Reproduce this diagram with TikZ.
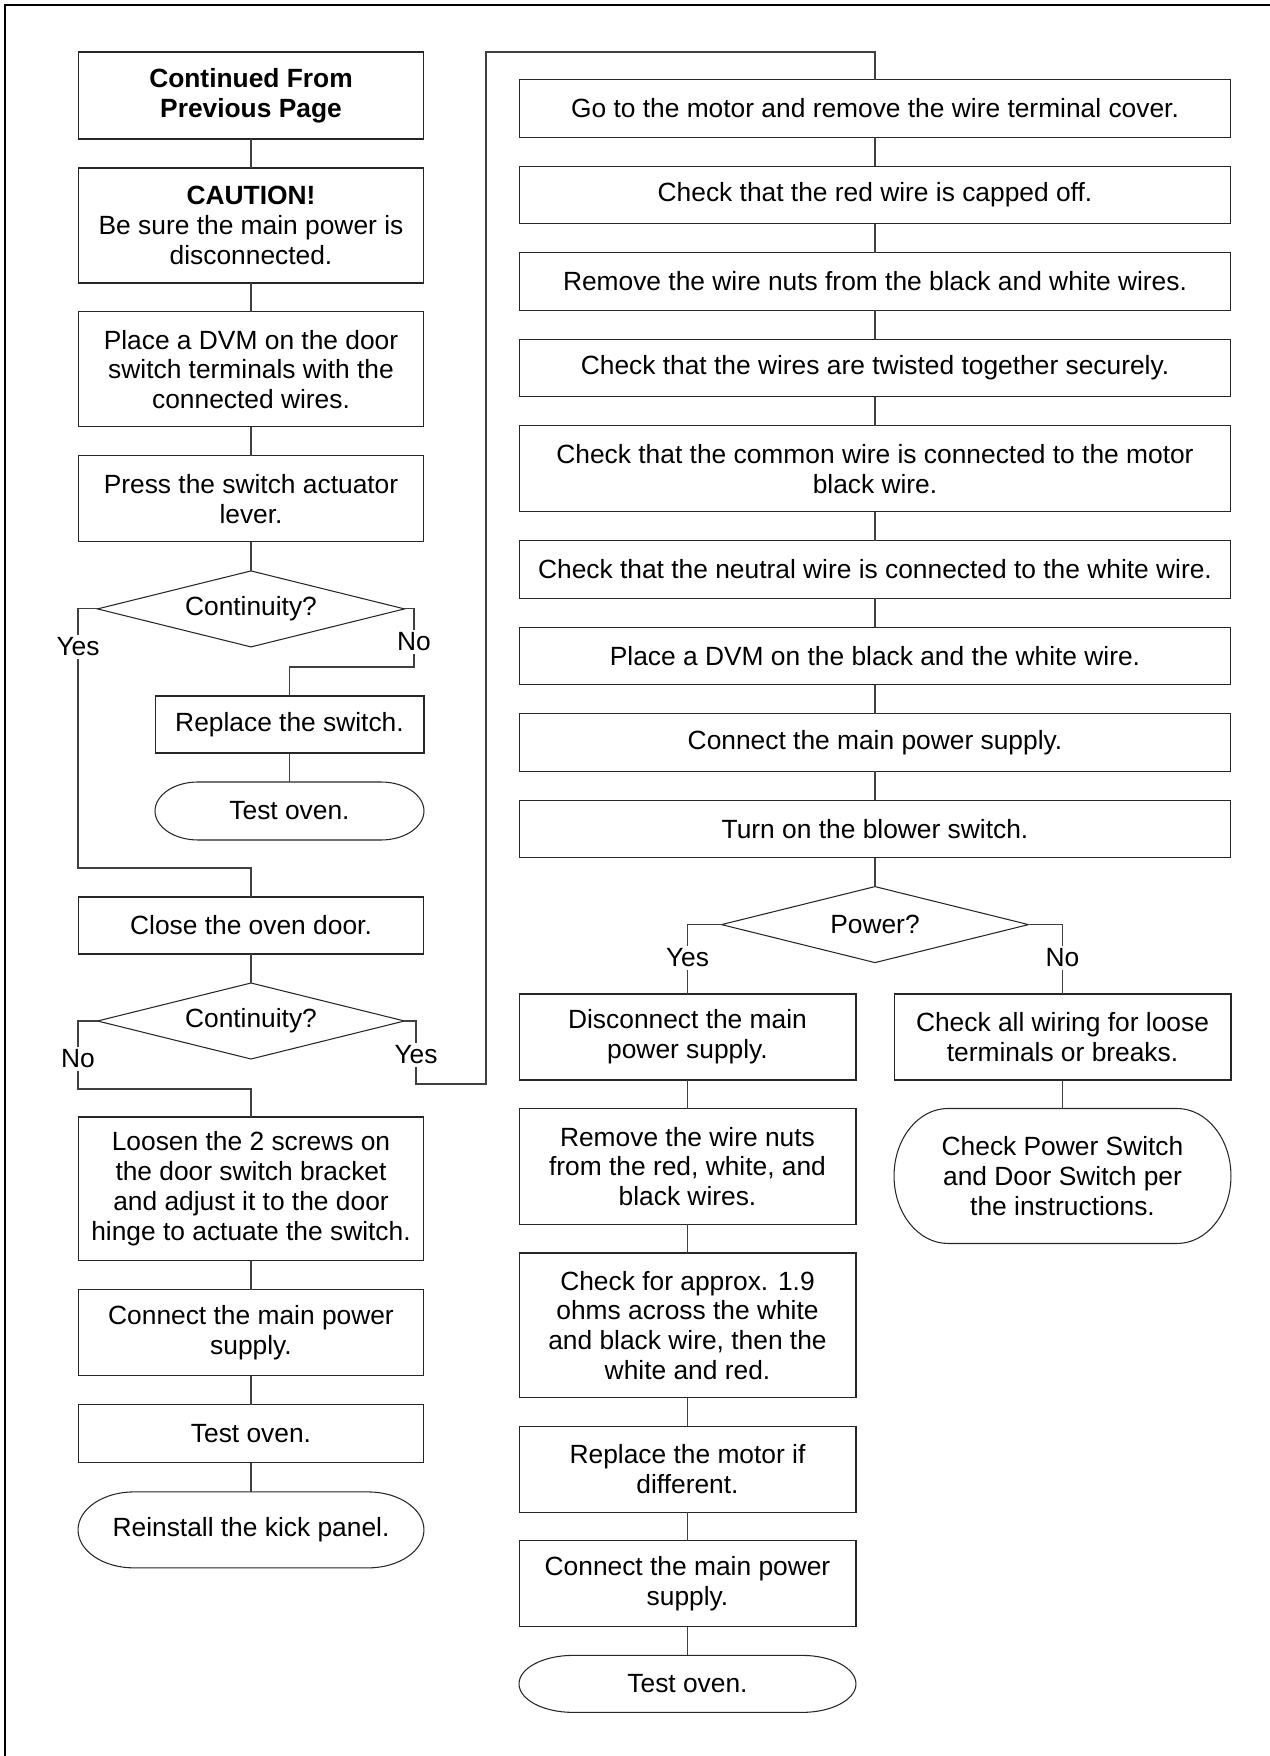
\documentclass[tikz,border=0pt]{standalone}
\usepackage{fontspec}
\setmainfont{Liberation Sans}
\usetikzlibrary{positioning, shapes.geometric}

\begin{document}
\begin{tikzpicture}[
                x = 0.02cm, y = -0.02cm, % one unit is one pixel of the page
                node distance = 5.8mm, % gap between boxes
                line width = 0.6pt % line style
            ]

            \tikzstyle{every node}=[font = \fontsize{15}{17}\selectfont,
            align = center, inner sep = 0pt, outer sep = 0pt]
            \tikzstyle{stepbox}=[draw = black!85, rectangle,
            minimum width = 6.92cm]
            \tikzstyle{widebox}=[stepbox, minimum width = 14.22cm]
            \tikzstyle{halfbox}=[stepbox, minimum width = 6.74cm]
            \tikzstyle{decision}=[draw = black!85, diamond, aspect = 4,
            minimum width = 6.14cm, minimum height = 1.52cm]
            \tikzstyle{term}=[rectangle]
            \tikzstyle{answer}=[fill = white, inner sep = 1.5pt]
            \tikzstyle{wire}=[draw = black!75]
            \tikzstyle{every edge}=[wire]

            \useasboundingbox (0, 0) rectangle (1270, 1756);

            % page frame
            \draw[line width = 1.2pt] (5, 1756) -- (5, 5) -- (1270, 5);

            % left column
            \node (1) [stepbox, minimum height = 1.74cm] at (251, 95.5)
            {\textbf{Continued From}\\\textbf{Previous Page}};
            \node (2) [stepbox, minimum height = 2.3cm, below = of 1]
            {\textbf{CAUTION!}\\Be sure the main power is\\disconnected.};
            \node (3) [stepbox, minimum height = 2.3cm, below = of 2]
            {Place a DVM on the door\\switch terminals with the\\connected wires.};
            \node (4) [stepbox, minimum height = 1.72cm, below = of 3]
            {Press the switch actuator\\lever.};
            \node (5) [decision, below = of 4] {Continuity?};
            \node (6) [stepbox, minimum width = 5.38cm, minimum height = 1.14cm]
            at (289.5, 724.5) {Replace the switch.};
            \node (7) [term, minimum width = 5.38cm, minimum height = 1.16cm,
            below = of 6] {Test oven.};
            \node (8) [stepbox, minimum height = 1.14cm] at (251, 925.5)
            {Close the oven door.};
            \node (9) [decision, below = of 8] {Continuity?};
            \node (10) [stepbox, minimum height = 2.88cm, below = 11.6mm of 9]
            {Loosen the 2 screws on\\the door switch bracket\\and adjust it to the door\\hinge to actuate the switch.};
            \node (11) [stepbox, minimum height = 1.72cm, below = of 10]
            {Connect the main power\\supply.};
            \node (12) [stepbox, minimum height = 1.16cm, below = of 11]
            {Test oven.};
            \node (13) [term, minimum width = 6.92cm, minimum height = 1.52cm,
            below = of 12] {Reinstall the kick panel.};

            % right column
            \node (14) [widebox, minimum height = 1.15cm] at (875, 108.5)
            {Go to the motor and remove the wire terminal cover.};
            \node (15) [widebox, minimum height = 1.15cm, below = of 14]
            {Check that the red wire is capped off.};
            \node (16) [widebox, minimum height = 1.15cm, below = of 15]
            {Remove the wire nuts from the black and white wires.};
            \node (17) [widebox, minimum height = 1.15cm, below = of 16]
            {Check that the wires are twisted together securely.};
            \node (18) [widebox, minimum height = 1.72cm, below = of 17]
            {Check that the common wire is connected to the motor\\black wire.};
            \node (19) [widebox, minimum height = 1.15cm, below = of 18]
            {Check that the neutral wire is connected to the white wire.};
            \node (20) [widebox, minimum height = 1.15cm, below = of 19]
            {Place a DVM on the black and the white wire.};
            \node (21) [widebox, minimum height = 1.15cm, below = of 20]
            {Connect the main power supply.};
            \node (22) [widebox, minimum height = 1.15cm, below = of 21]
            {Turn on the blower switch.};
            \node (23) [decision, below = of 22] {Power?};

            \node (24) [halfbox, minimum height = 1.72cm] at (687.5, 1037)
            {Disconnect the main\\power supply.};
            \node (25) [halfbox, minimum height = 2.32cm, below = 5.7mm of 24]
            {Remove the wire nuts\\from the red, white, and\\black wires.};
            \node (26) [halfbox, minimum height = 2.9cm, below = 5.7mm of 25]
            {Check for approx. 1.9\\ohms across the white\\and black wire, then the\\white and red.};
            \node (27) [halfbox, minimum height = 1.72cm, below = 5.7mm of 26]
            {Replace the motor if\\different.};
            \node (28) [halfbox, minimum height = 1.72cm, below = 5.7mm of 27]
            {Connect the main power\\supply.};
            \node (29) [term, minimum width = 6.74cm, minimum height = 1.14cm,
            below = 5.7mm of 28] {Test oven.};
            \node (30) [halfbox, minimum height = 1.72cm] at (1062.5, 1037)
            {Check all wiring for loose\\terminals or breaks.};
            \node (31) [term, minimum width = 6.74cm, minimum height = 2.7cm,
            below = 5.7mm of 30]
            {Check Power Switch\\and Door Switch per\\the instructions.};

            % terminator outlines
            \foreach \t/\rx/\ry in {7/43/29, 13/56/38, 29/54/28.5, 31/54/67.5}
            \draw[draw = black!85] ([xshift = \rx*0.02cm]\t.north west)
            -- ([xshift = -\rx*0.02cm]\t.north east)
            arc[start angle = 90, end angle = -90,
            x radius = \rx*0.02cm, y radius = \ry*0.02cm]
            -- ([xshift = \rx*0.02cm]\t.south west)
            arc[start angle = 270, end angle = 90,
            x radius = \rx*0.02cm, y radius = \ry*0.02cm] -- cycle;

            % bends
            \coordinate (k1) at (78, 868);
            \coordinate (k2) at (414, 667);
            \coordinate (k3) at (78, 1089);
            \coordinate (k4) at (416, 1084);
            \coordinate (k5) at (486, 52);

            \path (1) edge (2); \path (2) edge (3); \path (3) edge (4);
            \path (4) edge (5); \path (6) edge (7); \path (8) edge (9);
            \path (10) edge (11); \path (11) edge (12); \path (12) edge (13);
            \path (14) edge (15); \path (15) edge (16); \path (16) edge (17);
            \path (17) edge (18); \path (18) edge (19); \path (19) edge (20);
            \path (20) edge (21); \path (21) edge (22); \path (22) edge (23);
            \path (24) edge (25); \path (25) edge (26); \path (26) edge (27);
            \path (27) edge (28); \path (28) edge (29); \path (30) edge (31);

            \draw[wire] (5.west) -| (k1) -| (8.north);
            \draw[wire] (5.east) -| (k2) -| (6.north);
            \draw[wire] (9.west) -| (k3) -| (10.north);
            \draw[wire] (9.east) -| (k4) -| (k5) -| (14.north);
            \draw[wire] (23.west) -| (24.north);
            \draw[wire] (23.east) -| (30.north);

            \node (y1) [answer] at (78, 647) {Yes};
            \node (n1) [answer] at (414, 642) {No};
            \node (n2) [answer] at (78, 1059) {No};
            \node (y2) [answer] at (416, 1055) {Yes};
            \node (y3) [answer] at (687.5, 958) {Yes};
            \node (n3) [answer] at (1062.5, 958) {No};

        \end{tikzpicture}
\end{document}
